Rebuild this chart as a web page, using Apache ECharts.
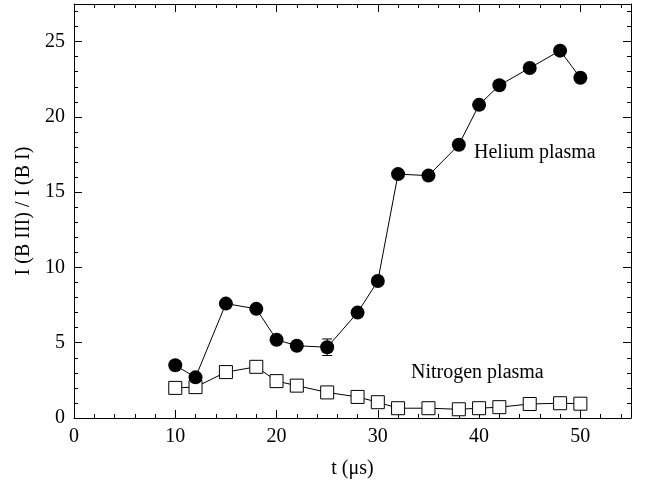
<!DOCTYPE html>
<html><head><meta charset="utf-8">
<script src="https://cdn.jsdelivr.net/npm/echarts@6/dist/echarts.min.js"></script>
<style>html,body{margin:0;padding:0;background:#fff}#c{width:648px;height:493px}</style>
</head><body><div id="c"></div>
<script>
const heliumT = [10, 12, 15, 18, 20, 22, 25, 28, 30, 32, 35, 38, 40, 42, 45, 48, 50];
const heliumV = [3.5, 2.7, 7.6, 7.25, 5.2, 4.8, 4.7, 7.0, 9.1, 16.2, 16.1, 18.15, 20.8, 22.1, 23.25, 24.4, 22.6];
const nitrogenT = [10, 12, 15, 18, 20, 22, 25, 28, 30, 32, 35, 38, 40, 42, 45, 48, 50];
const nitrogenV = [2.0, 2.05, 3.05, 3.4, 2.45, 2.15, 1.7, 1.4, 1.05, 0.65, 0.65, 0.58, 0.65, 0.72, 0.93, 0.98, 0.95];
const errT = [25];
const errV = [4.7];
const errD = [0.55];
const xTitle = 't (μs)';
const yTitle = 'I (B III) / I (B I)';
const heliumLabel = 'Helium plasma';
const nitrogenLabel = 'Nitrogen plasma';

const font = '"Liberation Serif", "Times New Roman", serif';
const chart = echarts.init(document.getElementById('c'), null, {renderer: 'canvas'});
const axisBase = {
  min: 0, axisLine: {show: true, onZero: false, lineStyle: {color: '#000', width: 1}},
  axisTick: {show: true, inside: true, length: 8, lineStyle: {color: '#000'}},
  minorTick: {show: true, splitNumber: 5, length: 4, lineStyle: {color: '#000'}},
  splitLine: {show: false}, minorSplitLine: {show: false}
};
const option = {
  animation: false,
  backgroundColor: '#fff',
  grid: {left: 74, right: 17, top: 4, bottom: 75},
  xAxis: [
    Object.assign({}, axisBase, {type: 'value', position: 'bottom', max: 55, interval: 10,
      name: xTitle, nameLocation: 'middle', nameGap: 41,
      nameTextStyle: {fontFamily: font, fontSize: 20, color: '#000'},
      axisLabel: {fontFamily: font, fontSize: 20, color: '#000', margin: 9, showMaxLabel: false}}),
    Object.assign({}, axisBase, {type: 'value', position: 'top', max: 55, interval: 10,
      axisLabel: {show: false}})
  ],
  yAxis: [
    Object.assign({}, axisBase, {type: 'value', position: 'left', max: 27.5, interval: 5,
      name: yTitle, nameLocation: 'middle', nameGap: 40,
      nameTextStyle: {fontFamily: font, fontSize: 20, color: '#000'},
      axisLabel: {fontFamily: font, fontSize: 20, color: '#000', margin: 9, showMaxLabel: false}}),
    Object.assign({}, axisBase, {type: 'value', position: 'right', max: 27.5, interval: 5,
      axisLabel: {show: false}})
  ],
  series: [
    {
      type: 'line', data: nitrogenT.map((t, i) => [t, nitrogenV[i]]),
      symbol: 'rect', symbolSize: 13, showAllSymbol: true,
      lineStyle: {color: '#000', width: 1},
      itemStyle: {color: '#fff', borderColor: '#000', borderWidth: 1}
    },
    {
      type: 'custom', z: 5,
      data: errT.map((t, i) => [t, errV[i] - errD[i], errV[i] + errD[i]]),
      renderItem: function (params, api) {
        const lo = api.coord([api.value(0), api.value(1)]);
        const hi = api.coord([api.value(0), api.value(2)]);
        const w = 5;
        const s = {stroke: '#000', lineWidth: 1};
        return {type: 'group', children: [
          {type: 'line', shape: {x1: lo[0], y1: lo[1], x2: hi[0], y2: hi[1]}, style: s},
          {type: 'line', shape: {x1: lo[0] - w, y1: lo[1], x2: lo[0] + w, y2: lo[1]}, style: s},
          {type: 'line', shape: {x1: hi[0] - w, y1: hi[1], x2: hi[0] + w, y2: hi[1]}, style: s}
        ]};
      }
    },
    {
      type: 'line', data: heliumT.map((t, i) => [t, heliumV[i]]), z: 4,
      symbol: 'circle', symbolSize: 14, showAllSymbol: true,
      lineStyle: {color: '#000', width: 1},
      itemStyle: {color: '#000', borderColor: '#000', borderWidth: 0}
    }
  ],
  graphic: [
    {type: 'text', left: 474, top: 143, style: {text: heliumLabel, font: '20px ' + font, fill: '#000'}},
    {type: 'text', left: 411, top: 363, style: {text: nitrogenLabel, font: '20px ' + font, fill: '#000'}}
  ]
};
chart.setOption(option);
</script></body></html>
